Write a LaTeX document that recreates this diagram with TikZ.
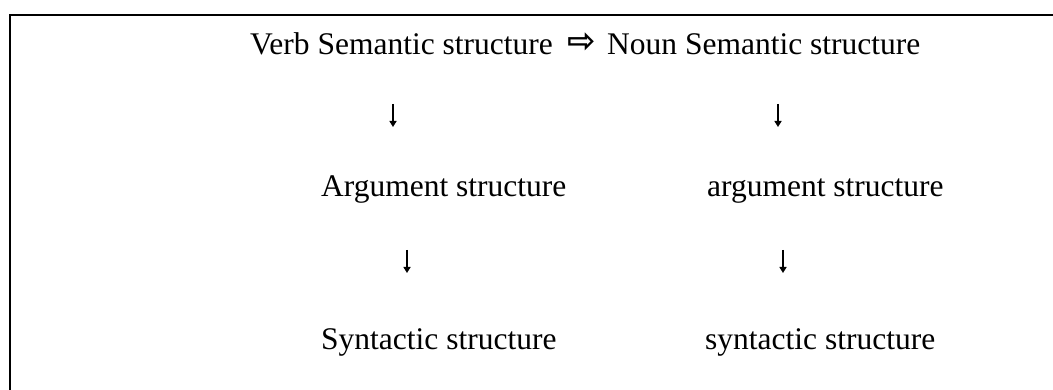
\documentclass[tikz,border=0pt]{standalone}
\usepackage{fontspec}
\setmainfont{Liberation Serif}
\newfontfamily\dejavub{DejaVu Sans Bold}
\usetikzlibrary{arrows.meta}
\tikzset{
  txt/.style={inner sep=0pt, anchor=base west, font=\fontsize{31.5}{36}\selectfont},
  darrow/.style={line width=1.8pt, -{Triangle[width=7pt,length=6pt]}},
  frame/.style={line width=1.3pt}
}
\begin{document}
\begin{tikzpicture}[x=1pt,y=1pt]
\useasboundingbox (0,0) rectangle (1053,-390);
\draw[frame] (10,-392) -- (10,-15) -- (1055,-15);
\node[txt] (vs) at (250,-55) {Verb Semantic structure};
\node[inner sep=0pt, font=\dejavub\fontsize{34}{36}\selectfont] (imp) at (581.5,-42.5) {⇨};
\node[txt] (ns) at (607,-55) {Noun Semantic structure};
\node[txt] (as) at (321,-197) {Argument structure};
\node[txt] (as2) at (707,-197) {argument structure};
\node[txt] (ss) at (321,-349) {Syntactic structure};
\node[txt] (ss2) at (705,-349) {syntactic structure};
\coordinate (a1s) at (393,-104); \coordinate (a1e) at (393,-127);
\coordinate (a2s) at (778,-104); \coordinate (a2e) at (778,-127);
\coordinate (a3s) at (407,-250); \coordinate (a3e) at (407,-273);
\coordinate (a4s) at (783,-250); \coordinate (a4e) at (783,-273);
\draw[darrow] (a1s) -- (a1e);
\draw[darrow] (a2s) -- (a2e);
\draw[darrow] (a3s) -- (a3e);
\draw[darrow] (a4s) -- (a4e);
\end{tikzpicture}
\end{document}
